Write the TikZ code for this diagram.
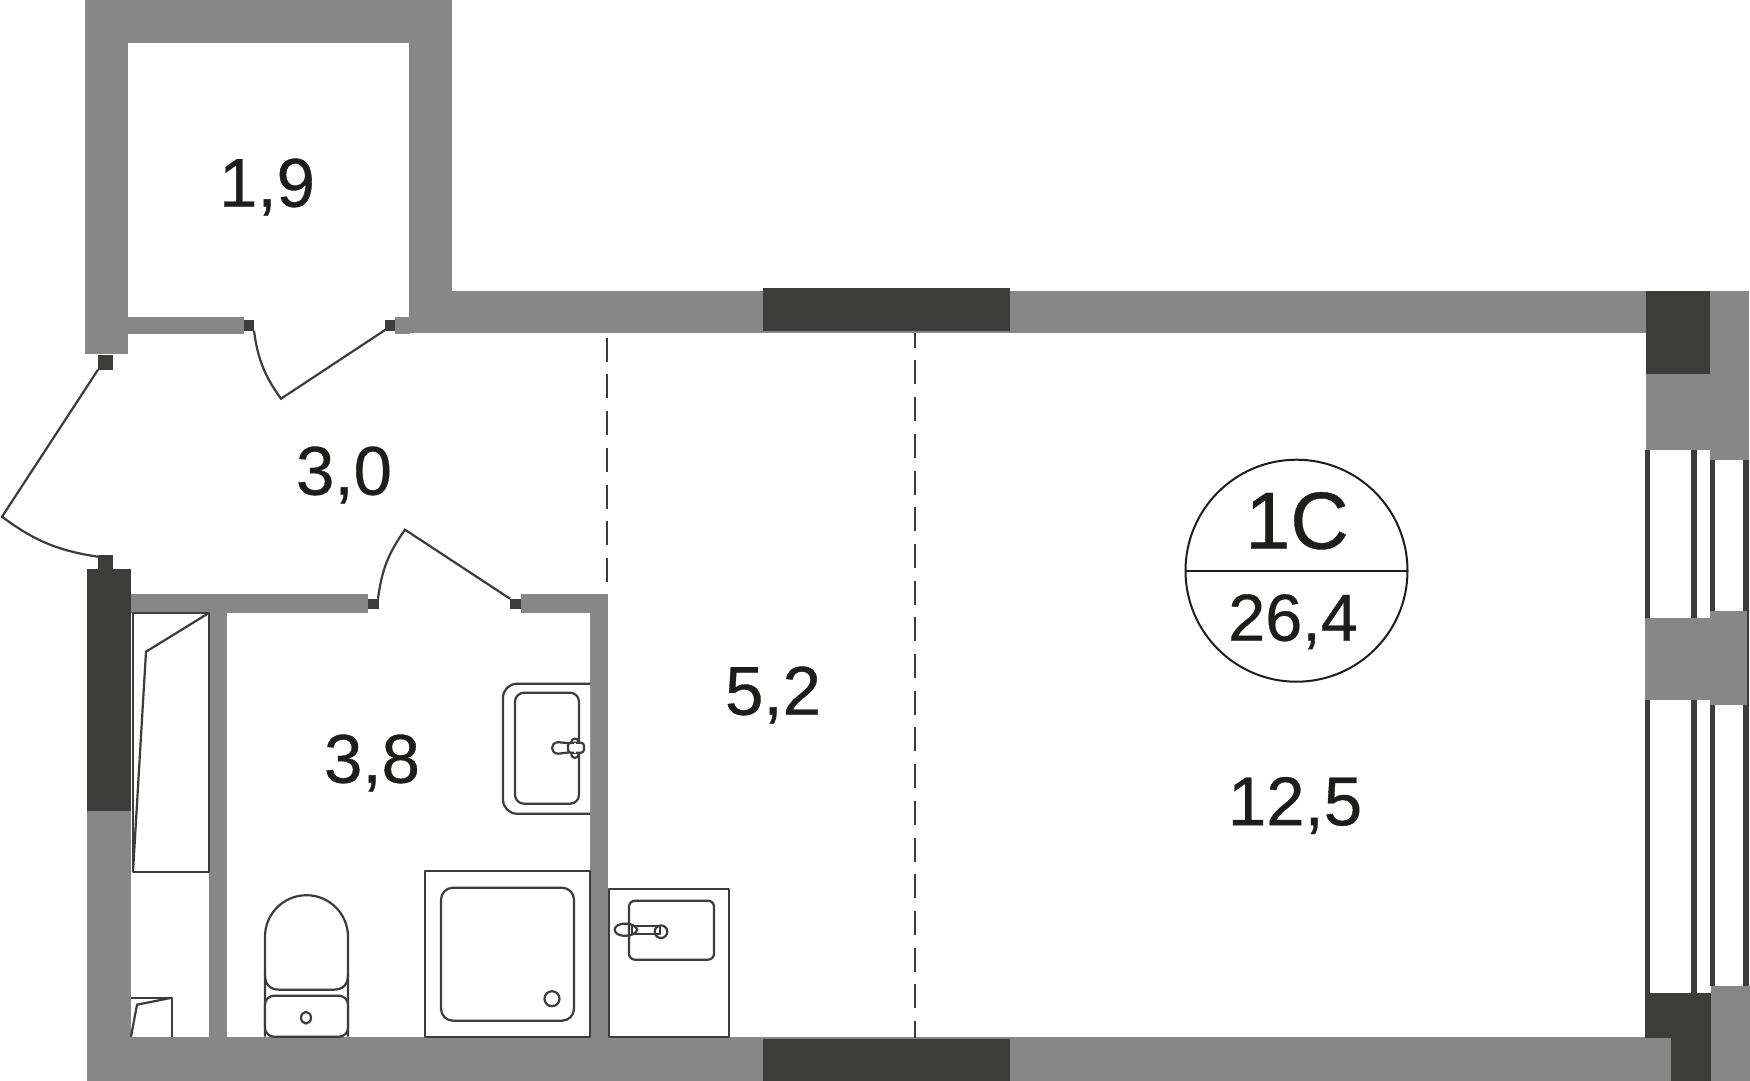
\documentclass[tikz,border=0pt]{standalone}
\usepackage{fontspec}
\setmainfont{Liberation Sans}[FakeBold=0.5]
\definecolor{wallgrey}{HTML}{878787}
\definecolor{walldark}{HTML}{3C3C3B}
\definecolor{inkdark}{HTML}{1D1D1B}
\tikzset{
    wall/.style={fill=wallgrey,draw=none},
    glazing/.style={fill=walldark,draw=none},
    fixture/.style={draw=walldark,line width=2.2pt,fill=white,line join=round},
    doorleaf/.style={draw=walldark,line width=2.2pt},
    zoneline/.style={draw=walldark,line width=2.2pt,dash pattern=on 24pt off 12.7pt},
    arealabel/.style={inner sep=0pt,anchor=base,text=inkdark,font=\fontsize{69}{69}\selectfont}
}
\begin{document}
\begin{tikzpicture}[x=1pt,y=-1pt]
    \useasboundingbox (0,-0.7) rectangle (1750,1079.3);

    \fill[wall] (85,-1) rectangle (452,42);
    \fill[wall] (85,-1) rectangle (127.5,353);
    \fill[wall] (409,-1) rectangle (452,332);
    \fill[wall] (409,290) rectangle (1646,332);
    \fill[wall] (127.5,316) rectangle (244,333);
    \fill[wall] (395,316) rectangle (410,333);
    \fill[wall] (87,810) rectangle (131,1080);
    \fill[wall] (87,1036) rectangle (1671,1080);
    \fill[wall] (131,593) rectangle (368,612);
    \fill[wall] (521,593) rectangle (608,612);
    \fill[wall] (590,593) rectangle (608,1036);
    \fill[wall] (209,612) rectangle (227,1036);

    \fill[glazing] (763,287) rectangle (1010,330);
    \fill[glazing] (763,1038) rectangle (1010,1080);
    \fill[glazing] (87,568) rectangle (131,810);
    \fill[glazing] (1646,290) rectangle (1710,373);
    \fill[glazing] (1645,992) rectangle (1711,1080);
    \fill[wall] (1645,1037) rectangle (1671,1080);

    \foreach \xa/\xb in {1645/1650,1691/1697}
        \fill[glazing] (\xa,449) rectangle (\xb,992);
    \foreach \xa/\xb in {1709.5/1715,1743/1749}
        \fill[glazing] (\xa,459) rectangle (\xb,985);

    \fill[wall] (1710,290) rectangle (1749,459);
    \fill[wall] (1646,373) rectangle (1710,449);
    \fill[wall] (1645,617) rectangle (1710,699);
    \fill[wall] (1710,610) rectangle (1747,704);
    \fill[wall] (1711,985) rectangle (1750,1080);

    \foreach \xa/\ya/\xb/\yb in {244/319/254/330,385/319/395/330,97.7/354/112.7/369,97.7/554/112.7/568,368/598/379/608,510/598/521/608}
        \fill[glazing] (\xa,\ya) rectangle (\xb,\yb);

    \coordinate (closetHinge) at (385.5,329);
    \coordinate (closetTip) at (281,398);
    \coordinate (closetStop) at (254,330);
    \coordinate (entryHinge) at (98,369);
    \coordinate (entryTip) at (2,516);
    \coordinate (entryStop) at (98,556);
    \coordinate (bathHinge) at (510,598);
    \coordinate (bathTip) at (405,529);
    \coordinate (bathStop) at (378,598);

    \draw[doorleaf] (closetHinge) -- (closetTip) to[bend left=14] (closetStop);
    \draw[doorleaf] (entryHinge) -- (entryTip) to[bend right=14] (entryStop);
    \draw[doorleaf] (bathHinge) -- (bathTip) to[bend right=14] (bathStop);

    \draw[zoneline,dash phase=0pt] (607,337) -- (607,582);
    \draw[zoneline,dash phase=9pt] (915.3,332) -- (915.3,1037);

    \draw[fixture] (132.7,612) rectangle (209.3,871);
    \draw[doorleaf] (133,871) -- (146,651) -- (207.7,613);
    \draw[fixture,fill=none] (131,997) -- (172,997) -- (172,1036);
    \draw[doorleaf] (131,1036) -- (137,1004) -- (172,997);

    \draw[fixture] (265,1036) -- (265,936) arc[start angle=180,end angle=360,radius=41.5] -- (348,1036);
    \draw[fixture,fill=none] (265,974) .. controls (265,984) and (270,989) .. (280,989) -- (333,989) .. controls (343,989) and (348,984) .. (348,974);
    \draw[fixture,rounded corners=9pt] (265,995) rectangle (348,1036);
    \draw[fixture] (306,1017) ellipse[x radius=5,y radius=5.8];

    \draw[fixture] (424.7,870) rectangle (590,1036);
    \draw[fixture,rounded corners=12pt] (441,887) rectangle (574,1020);
    \draw[fixture] (552,998) circle[radius=7.5];

    \draw[fixture,rounded corners=14pt] (590,813) -- (503,813) -- (503,683) -- (590,683);
    \draw[fixture,rounded corners=9pt] (515,692) rectangle (579,803);
    \draw[fixture] (558,741.5) .. controls (550,742) and (550,752.5) .. (558,753) -- (575,751) -- (575,743) -- cycle;
    \draw[fixture,rounded corners=3pt] (571.5,738) rectangle (578.5,757);
    \draw[fixture,rounded corners=3pt] (568,742) rectangle (584,752);
    \draw[white,line width=1.4pt] (575,742) -- (575,752) (570,747) -- (582,747);

    \draw[fixture] (609,888) rectangle (729,1036);
    \draw[fixture,rounded corners=6pt] (629,900) rectangle (714,959);
    \draw[fixture,fill=none] (626,923) .. controls (611,922) and (611,936) .. (626,935) .. controls (632,935) and (637,932) .. (637,929) .. controls (637,926) and (632,923) .. (626,923);
    \draw[fixture,fill=none] (632,925.5) rectangle (660,933);
    \draw[fixture,fill=none] (661,931) circle[radius=6.3];

    \draw[draw=inkdark,line width=2pt] (1296.5,570) circle[radius=111];
    \coordinate (badgeLeft) at (1185.5,570);
    \coordinate (badgeRight) at (1407.5,570);
    \draw[draw=inkdark,line width=2pt] (badgeLeft) -- (badgeRight);

    \node[arealabel,font=\fontsize{81}{81}\selectfont] (flatType) at (1297,548) {1C};
    \node[arealabel,font=\fontsize{66.5}{66.5}\selectfont] (flatArea) at (1293,640) {26,4};
    \node[arealabel] (closetArea) at (267,206) {1,9};
    \node[arealabel] (hallArea) at (344,494) {3,0};
    \node[arealabel] (bathArea) at (372,782) {3,8};
    \node[arealabel] (kitchenArea) at (773,714) {5,2};
    \node[arealabel] (roomArea) at (1295,824.5) {12,5};
\end{tikzpicture}
\end{document}
